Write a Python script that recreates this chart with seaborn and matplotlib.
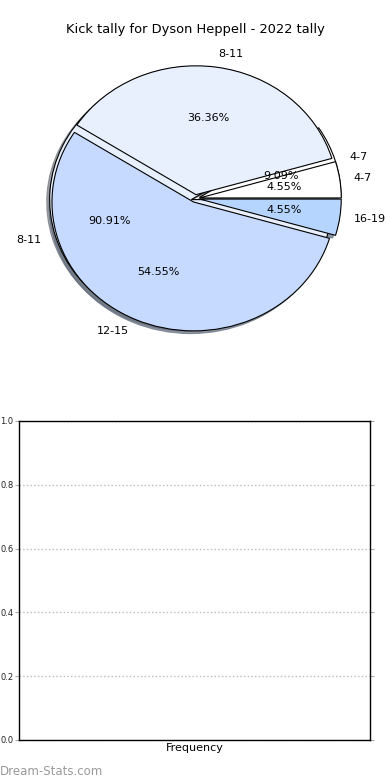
import matplotlib
matplotlib.use('Agg')
import matplotlib.pyplot as plt
import seaborn as sns

# two tallies drawn on the same pie axes
labels_a = ['4-7', '8-11']
values_a = [1, 10]
labels_b = ['4-7', '8-11', '12-15', '16-19']
values_b = [1, 8, 12, 1]
colour_map = {'4-7': '#ffffff', '8-11': '#e8f0fe', '12-15': '#c6d9fe', '16-19': '#b5d4fe'}
yticks = [0.0, 0.2, 0.4, 0.6, 0.8, 1.0]

sns.set_style('white')
plt.rcParams['font.family'] = ['DejaVu Sans']
plt.rcParams['text.color'] = 'black'
plt.rcParams['axes.labelcolor'] = 'black'
plt.rcParams['ytick.color'] = 'black'

fig = plt.figure(figsize=(3.9, 7.8), dpi=100)

ax = fig.add_axes([0.047, 0.539, 0.908, 0.413])
wp = dict(edgecolor='black', linewidth=0.8)
shadow = dict(ox=-0.015, oy=-0.015, shade=0.5, alpha=0.7)
ax.pie(values_a, labels=labels_a, colors=[colour_map[l] for l in labels_a],
       explode=[0.03] * len(values_a), shadow=shadow, autopct='%.2f%%',
       startangle=0, wedgeprops=wp, textprops=dict(fontsize=8, color='black'))
ax.pie(values_b, labels=labels_b, colors=[colour_map[l] for l in labels_b],
       explode=[0.03] * len(values_b), shadow=shadow, autopct='%.2f%%',
       startangle=0, wedgeprops=wp, textprops=dict(fontsize=8, color='black'))
ax.set_aspect('auto')
ax.set_xlim(-1.25, 1.25); ax.set_ylim(-1.25, 1.25)
ax.set_title('Kick tally for Dyson Heppell - 2022 tally', fontsize=9.4, pad=3, color='black')

ax2 = fig.add_axes([0.0487, 0.0513, 0.9, 0.409])
ax2.set_ylim(0, 1)
ax2.set_xlim(0, 1)
ax2.set_yticks(yticks)
ax2.set_yticklabels([f'{v:.1f}' for v in yticks], fontsize=6)
ax2.set_xticks([])
ax2.yaxis.grid(True, linestyle=':', color='#bbbbbb', linewidth=1)
ax2.tick_params(axis='y', length=3, color='#aaaaaa', labelcolor='#222222', pad=1, right=True, left=True)
for s in ax2.spines.values():
    s.set_color('black'); s.set_linewidth(1)
ax2.set_xlabel('Frequency', fontsize=8, labelpad=2)

fig.text(0.0, 0.006, 'Dream-Stats.com', color='#9a9a9a', fontsize=8.5)

fig.savefig('out.png', dpi=100)
